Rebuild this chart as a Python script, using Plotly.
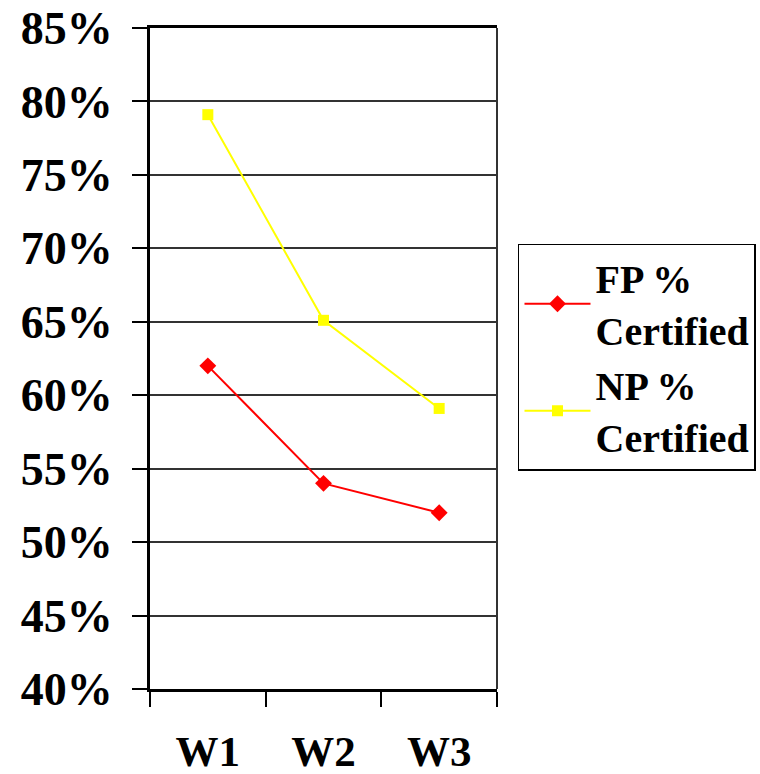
import plotly.graph_objects as go

categories = ["W1", "W2", "W3"]
fp_values = [0.62, 0.54, 0.52]
np_values = [0.791, 0.651, 0.591]
series_names = ["FP %<br>Certified", "NP %<br>Certified"]

FONT = "Liberation Serif, Times New Roman, serif"

fig = go.Figure()
fig.add_trace(go.Scatter(
    x=categories, y=fp_values, name=series_names[0], mode="lines+markers",
    line=dict(color="#FF0000", width=2),
    marker=dict(symbol="diamond", size=13, color="#FF0000"),
))
fig.add_trace(go.Scatter(
    x=categories, y=np_values, name=series_names[1], mode="lines+markers",
    line=dict(color="#FFFF00", width=2),
    marker=dict(symbol="square", size=11, color="#FFFF00"),
))

fig.update_layout(
    width=760, height=774,
    margin=dict(l=150, r=263, t=28, b=85, autoexpand=False),
    paper_bgcolor="white", plot_bgcolor="white",
    font=dict(family=FONT, color="black"),
    legend=dict(
        x=1.0605, xanchor="left", y=0.502, yanchor="middle",
        font=dict(family=FONT, size=40, weight="bold", color="black"),
        bordercolor="black", borderwidth=1.5, bgcolor="white",
        itemwidth=66, tracegroupgap=0,
    ),
    xaxis=dict(
        type="category", range=[-0.5, 2.5], automargin=False,
        showline=True, linecolor="black", linewidth=3, mirror=True,
        ticks="outside", ticklen=15, tickwidth=2, tickcolor="black",
        tickson="boundaries", showgrid=False,
        tickfont=dict(family=FONT, size=43, weight="bold", color="black"),
        ticklabelstandoff=22,
    ),
    yaxis=dict(
        range=[0.40, 0.85], dtick=0.05, tickformat=".0%", automargin=False,
        showline=True, linecolor="black", linewidth=3,
        ticks="outside", ticklen=15, tickwidth=2, tickcolor="black",
        showgrid=True, gridcolor="#333333", gridwidth=2, zeroline=False,
        tickfont=dict(family=FONT, size=46, weight="bold", color="black"),
        ticklabelstandoff=10,
    ),
    shapes=[dict(type="line", xref="paper", yref="paper", x0=1, x1=1, y0=0, y1=1,
                 line=dict(color="#333333", width=2))],
)

fig.write_html(
    "out.html",
    config={"displayModeBar": False},
    post_script="document.body.style.margin='0';document.body.style.overflow='hidden';",
)
